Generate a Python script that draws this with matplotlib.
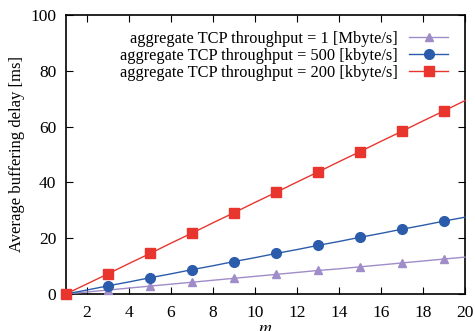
import numpy as np
import matplotlib.pyplot as plt

plt.rcParams['font.family'] = ['Liberation Serif', 'DejaVu Serif']
plt.rcParams['mathtext.fontset'] = 'stix'

m = np.arange(1, 21)
# aggregate TCP throughput = 1 Mbyte/s
d_1M = [0, 0.7, 1.4, 2.1, 2.8, 3.5, 4.2, 4.9, 5.6, 6.3,
        7.0, 7.7, 8.4, 9.0, 9.7, 10.4, 11.1, 11.8, 12.5, 13.2]
# 500 kbyte/s
d_500k = [0, 1.4, 2.9, 4.3, 5.8, 7.2, 8.7, 10.1, 11.6, 13.0,
          14.5, 15.9, 17.4, 18.8, 20.3, 21.7, 23.2, 24.6, 26.1, 27.5]
# 200 kbyte/s
d_200k = [0, 3.6, 7.2, 10.9, 14.5, 18.2, 21.8, 25.5, 29.1, 32.8,
          36.4, 40.1, 43.7, 47.4, 51.0, 54.7, 58.3, 62.0, 65.6, 69.3]

labels = ['aggregate TCP throughput = 1 [Mbyte/s]',
          'aggregate TCP throughput = 500 [kbyte/s]',
          'aggregate TCP throughput = 200 [kbyte/s]']

fig = plt.figure(figsize=(4.75, 3.31), dpi=100)
ax = fig.add_axes([0.139, 0.112, 0.840, 0.843])

ax.plot(m, d_1M, color='#a08cc8', lw=1, marker='^', ms=6, markevery=2,
        label=labels[0], clip_on=False, zorder=3)
ax.plot(m, d_500k, color='#2b5cab', lw=1, marker='o', ms=7, markevery=2,
        label=labels[1], clip_on=False, zorder=3)
ax.plot(m, d_200k, color='#e8352e', lw=1, marker='s', ms=7.5, markevery=2,
        label=labels[2], clip_on=False, zorder=3)

ax.set_xlim(1, 20)
ax.set_ylim(0, 100)
ax.set_xticks(range(2, 21, 2))
ax.set_yticks(range(0, 101, 20))
ax.tick_params(direction='in', top=True, right=True, length=5, labelsize=12.5)
ax.tick_params(axis='x', pad=8)
ax.tick_params(axis='y', pad=7)
for s in ax.spines.values():
    s.set_linewidth(1.2)

ax.set_xlabel('$m$', fontsize=13, labelpad=-1)
ax.set_ylabel('Average buffering delay [ms]', fontsize=12)

ax.legend(loc='upper right', frameon=False, markerfirst=False, fontsize=11.8,
          handlelength=2.4, labelspacing=0.05, handletextpad=0.7,
          borderaxespad=0, bbox_to_anchor=(0.975, 0.965))

fig.savefig('out.png', dpi=100)
